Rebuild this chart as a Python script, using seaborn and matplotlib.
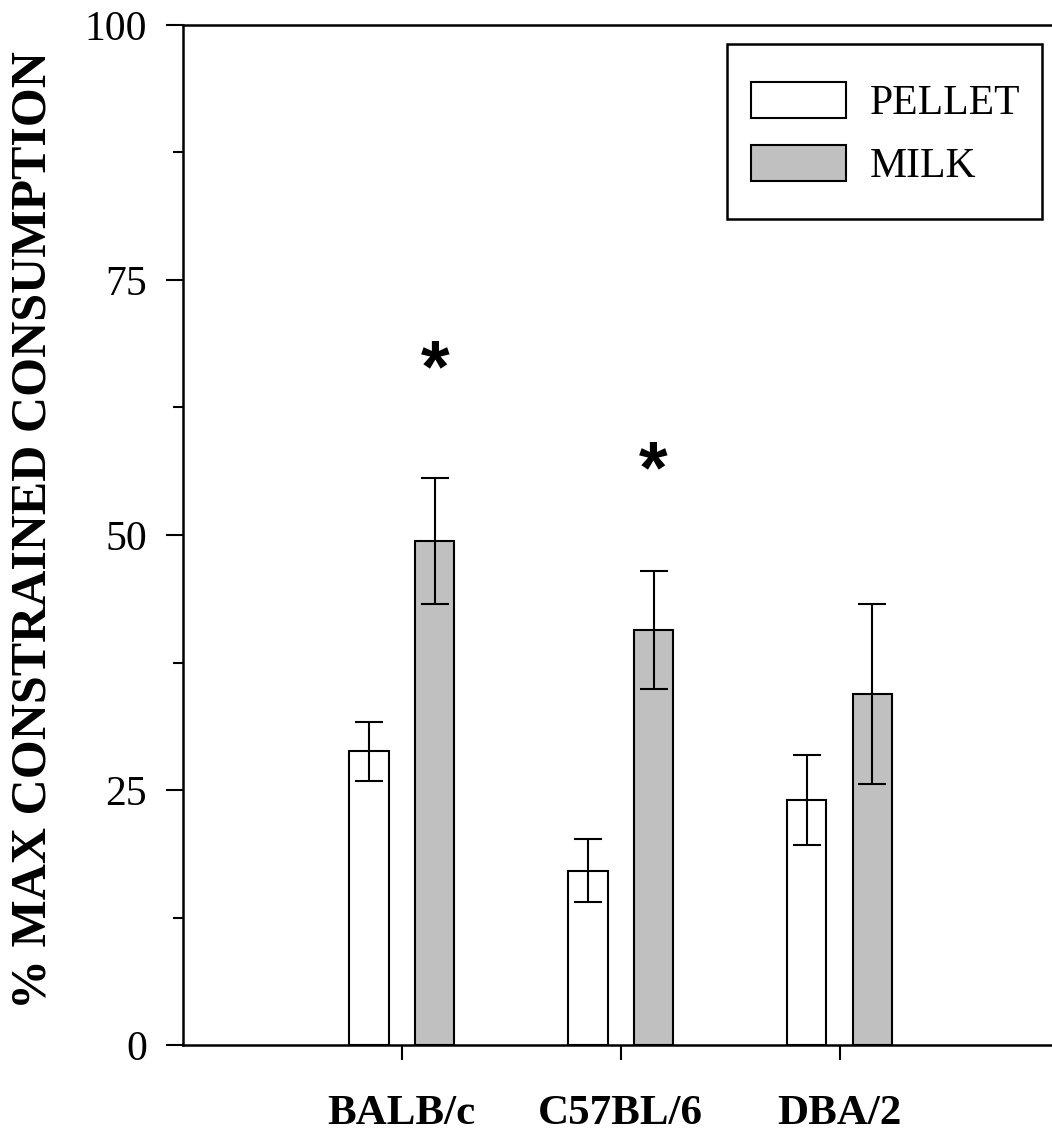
import numpy as np
import pandas as pd
import seaborn as sns
import matplotlib.pyplot as plt
from matplotlib.ticker import MultipleLocator
from matplotlib.patches import Rectangle

strains = ["BALB/c", "C57BL/6", "DBA/2"]
diets = ["PELLET", "MILK"]
pellet_mean = [28.8, 17.1, 24.0]
pellet_err = [2.9, 3.1, 4.4]
milk_mean = [49.4, 40.7, 34.4]
milk_err = [6.2, 5.8, 8.8]
star_strains = ["BALB/c", "C57BL/6"]
star_y = [66.0, 56.1]

sns.set_style("ticks")
plt.rcParams["font.family"] = ["Liberation Serif", "DejaVu Serif"]
for key in ["text.color", "axes.labelcolor", "xtick.color", "ytick.color", "axes.edgecolor"]:
    plt.rcParams[key] = "black"

df = pd.DataFrame({
    "strain": strains * 2,
    "diet": ["PELLET"] * 3 + ["MILK"] * 3,
    "value": pellet_mean + milk_mean,
    "err": pellet_err + milk_err,
})

fig = plt.figure(figsize=(10.52, 11.35), dpi=100)
ax = fig.add_axes([183 / 1052, 1 - 1045 / 1135, 875.5 / 1052, 1020 / 1135])

sns.barplot(data=df, x="strain", y="value", hue="diet", order=strains, hue_order=diets,
            palette={"PELLET": "white", "MILK": "#c0c0c0"}, edgecolor="black",
            linewidth=1.5, width=0.6, gap=0.4, errorbar=None, ax=ax, legend=False)

# error bars from the drawn bar positions
for cont, diet in zip(ax.containers, diets):
    sub = df[df["diet"] == diet].set_index("strain").loc[strains]
    xs = [b.get_x() + b.get_width() / 2 for b in cont]
    ax.errorbar(xs, sub["value"], yerr=sub["err"], fmt="none", ecolor="black",
                elinewidth=1.5, capsize=10, capthick=1.5, zorder=5)

# significance stars above milk bars
milk_bars = dict(zip(strains, ax.containers[1]))
for s, y in zip(star_strains, star_y):
    b = milk_bars[s]
    ax.text(b.get_x() + b.get_width() / 2, y, "*", ha="center", va="center",
            fontsize=53, fontweight="bold", family=["Liberation Sans", "DejaVu Sans"])

ax.set_xlim(-1, 3)
ax.set_ylim(0, 100)
ax.set_yticks([0, 25, 50, 75, 100])
ax.yaxis.set_minor_locator(MultipleLocator(12.5))
ax.tick_params(axis="y", which="major", length=12, width=1.5, labelsize=30, pad=14)
ax.tick_params(axis="y", which="minor", length=7, width=1.5)
ax.tick_params(axis="x", length=11, width=1.5, labelsize=31, pad=25)
for lab in ax.get_xticklabels():
    lab.set_fontweight("bold")
ax.set_xlabel("")
ax.set_ylabel("")
for side in ["left", "bottom", "top"]:
    ax.spines[side].set_visible(True)
    ax.spines[side].set_linewidth(1.8)
ax.spines["right"].set_visible(False)

fig.text(34 / 1052, 1 - 530 / 1135, "% MAX CONSTRAINED CONSUMPTION", rotation=90,
         ha="center", va="center", fontsize=36, fontweight="bold")

# legend without its own frame, boxed separately
leg = ax.legend(ax.containers, diets, loc="upper left",
                bbox_to_anchor=(751 / 1052, 1 - 82 / 1135), bbox_transform=fig.transFigure,
                fontsize=30, frameon=False, borderpad=0, handlelength=2.28, handleheight=0.94,
                handletextpad=0.58, labelspacing=0.52, borderaxespad=0)
fig.patches.append(Rectangle((727 / 1052, 1 - 219 / 1135), 315 / 1052, 175 / 1135,
                             transform=fig.transFigure, fill=False, edgecolor="black",
                             linewidth=1.8, zorder=10))

fig.savefig("out.png", dpi=100)
